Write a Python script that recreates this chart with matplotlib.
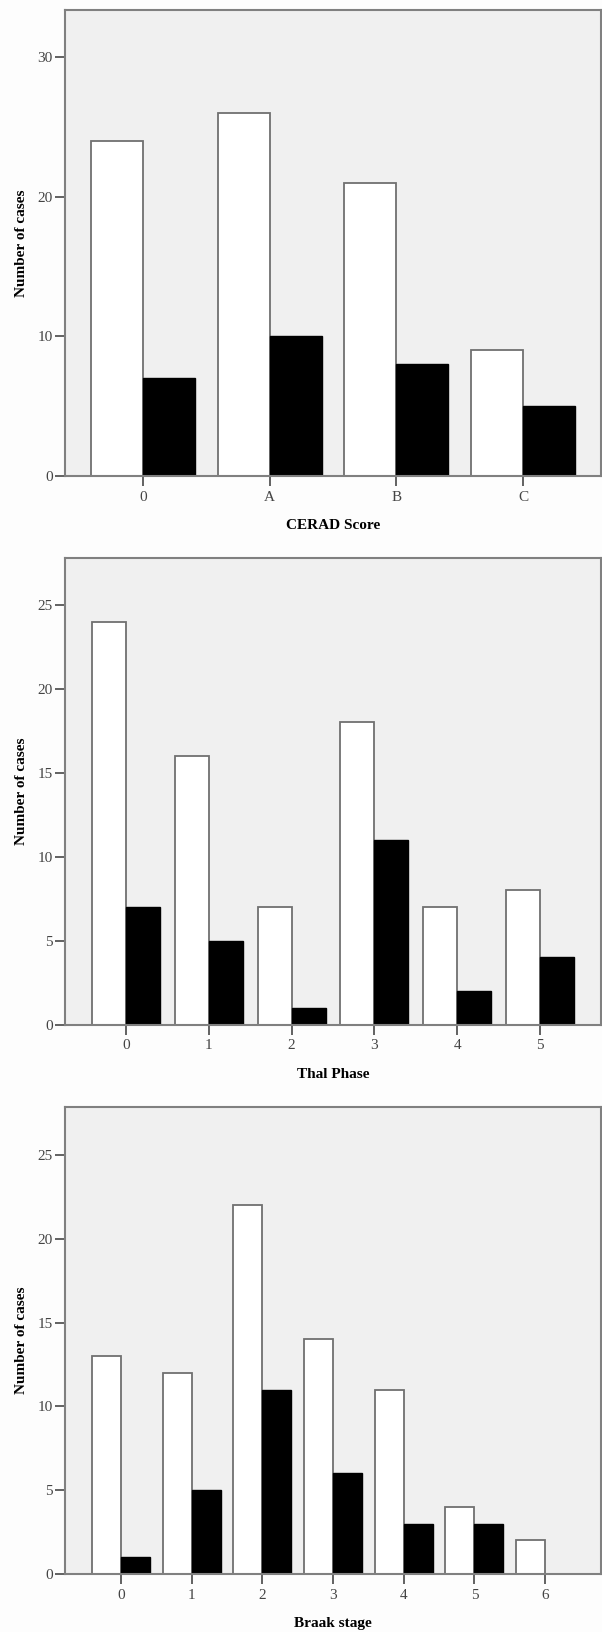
import matplotlib.pyplot as plt
import numpy as np

# CERAD score
cerad_cats = ['0', 'A', 'B', 'C']
cerad_white = [24, 26, 21, 9]
cerad_black = [7, 10, 8, 5]

# Thal phase
thal_cats = ['0', '1', '2', '3', '4', '5']
thal_white = [24, 16, 7, 18, 7, 8]
thal_black = [7, 5, 1, 11, 2, 4]

# Braak stage
braak_cats = ['0', '1', '2', '3', '4', '5', '6']
braak_white = [13, 12, 22, 14, 11, 4, 2]
braak_black = [1, 5, 11, 6, 3, 3, 0]

plt.rcParams['font.family'] = ['Liberation Serif', 'DejaVu Serif']

W, H = 602, 1632
fig = plt.figure(figsize=(W / 100, H / 100), dpi=100)
fig.patch.set_facecolor('#fdfdfd')

frame = '#808080'


def panel(top, bottom, cats, white, black, ymax, yticks, xlabel, margin):
    ax = fig.add_axes([65 / W, 1 - bottom / H, 536 / W, (bottom - top) / H])
    ax.set_facecolor('#f0f0f0')
    x = np.arange(len(cats))
    bw = 0.41
    ax.bar(x - bw / 2, white, bw, color='white', edgecolor='#707070', linewidth=1.3)
    ax.bar(x + bw / 2, black, bw, color='black', edgecolor='black', linewidth=1.0)
    ax.set_xlim(-margin, len(cats) - 1 + margin)
    ax.set_ylim(0, ymax)
    ax.set_xticks(x)
    ax.set_xticklabels(cats)
    ax.set_yticks(yticks)
    for s in ax.spines.values():
        s.set_color(frame)
        s.set_linewidth(1.5)
    ax.tick_params(axis='both', colors='#555555', labelcolor='#444444', width=1.3,
                   length=7.2, labelsize=11)
    ax.tick_params(axis='y', pad=1.5)
    ax.tick_params(axis='x', pad=3.5)
    ax.set_ylabel('Number of cases', fontsize=11, fontweight='bold', va='center')
    ax.yaxis.set_label_coords(-0.082, 0.5)
    ax.set_xlabel(xlabel, fontsize=11, fontweight='bold', va='center')
    ax.xaxis.set_label_coords(0.5, -49.5 / (bottom - top))
    return ax


panel(10, 476, cerad_cats, cerad_white, cerad_black, 33.36, [0, 10, 20, 30],
      'CERAD Score', 0.614)
panel(557.8, 1024.6, thal_cats, thal_white, thal_black, 27.8, [0, 5, 10, 15, 20, 25],
      'Thal Phase', 0.734)
panel(1106.6, 1574, braak_cats, braak_white, braak_black, 27.9, [0, 5, 10, 15, 20, 25],
      'Braak stage', 0.79)

fig.savefig('out.png', dpi=100, facecolor=fig.get_facecolor())
